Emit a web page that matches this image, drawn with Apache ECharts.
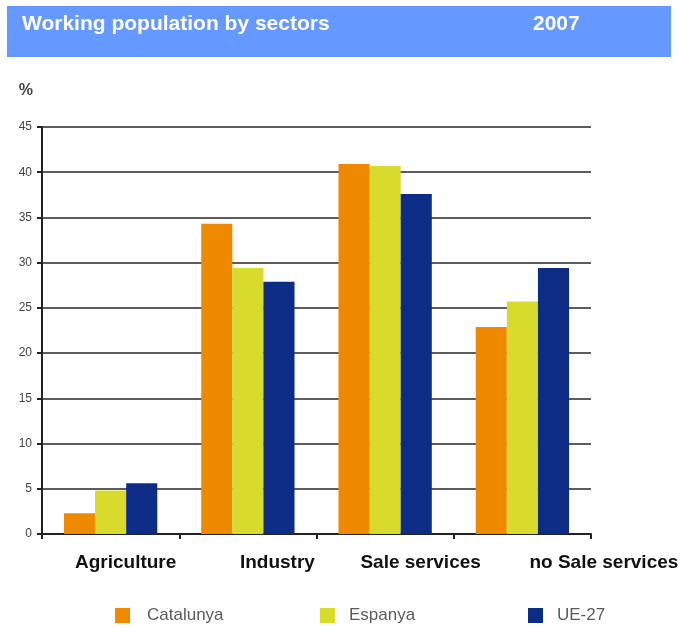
<!DOCTYPE html>
<html>
<head>
<meta charset="utf-8">
<title>Working population by sectors 2007</title>
<script src="https://cdn.jsdelivr.net/npm/echarts@6/dist/echarts.min.js"></script>
<style>
  html, body { margin: 0; padding: 0; background: #ffffff; }
  #chart { width: 685px; height: 628px; }
</style>
</head>
<body>
<div id="chart"></div>
<script>
// Sectors and share of working population (%) in 2007
var sectors = ['Agriculture', 'Industry', 'Sale services', 'no Sale services'];
var catalunya = [2.3, 34.3, 40.9, 22.9];
var espanya = [4.8, 29.4, 40.7, 25.7];
var ue27 = [5.6, 27.9, 37.6, 29.4];
var yTicks = [0, 5, 10, 15, 20, 25, 30, 35, 40, 45];

var seriesNames = ['Catalunya', 'Espanya', 'UE-27'];
var seriesColors = ['#EF8A00', '#D9DB2C', '#0D2C85'];

// Per-label horizontal nudges for the sector names under the axis
var labelShift = [30, 59, 71, 163];
var rich = {};
sectors.forEach(function (s, i) {
  rich['c' + i] = {
    fontFamily: 'Liberation Sans, Arial, sans-serif',
    fontWeight: 'bold',
    fontSize: 19,
    color: '#111',
    padding: [0, 0, 0, labelShift[i]]
  };
});

function legendFor(name, left, gap) {
  return {
    data: [name],
    left: left,
    top: 607,
    itemWidth: 15,
    itemHeight: 15,
    icon: 'rect',
    padding: 0,
    selectedMode: false,
    textStyle: {
      fontFamily: 'Liberation Sans, Arial, sans-serif',
      fontSize: 17,
      color: '#5a5a5a',
      padding: [0, 0, 0, gap]
    }
  };
}

var chart = echarts.init(document.getElementById('chart'), null, { renderer: 'canvas' });

chart.setOption({
  backgroundColor: '#ffffff',
  animation: false,
  graphic: [{
    type: 'rect',
    z: -1,
    shape: { x: 7, y: 6, width: 664, height: 51 },
    style: { fill: '#6699FF' }
  }],
  title: [{
    text: 'Working population by sectors',
    left: 22,
    top: 14,
    padding: 0,
    textStyle: {
      fontFamily: 'Liberation Sans, Arial, sans-serif',
      fontWeight: 'bold',
      fontSize: 21,
      color: '#ffffff'
    }
  }, {
    text: '2007',
    left: 533,
    top: 14,
    padding: 0,
    textStyle: {
      fontFamily: 'Liberation Sans, Arial, sans-serif',
      fontWeight: 'bold',
      fontSize: 21,
      color: '#ffffff'
    }
  }],
  legend: [
    legendFor(seriesNames[0], 115, 12),
    legendFor(seriesNames[1], 320, 9),
    legendFor(seriesNames[2], 528, 9)
  ],
  grid: { left: 42, right: 94, top: 127, bottom: 94, containLabel: false },
  xAxis: {
    type: 'category',
    data: sectors,
    boundaryGap: true,
    axisLine: { show: true, lineStyle: { color: '#222', width: 2 } },
    axisTick: { show: true, length: 5, lineStyle: { color: '#222', width: 2 } },
    axisLabel: {
      margin: 19,
      interval: 0,
      formatter: function (v, i) { return '{c' + i + '|' + v + '}'; },
      rich: rich
    },
    splitLine: { show: false }
  },
  yAxis: {
    type: 'value',
    min: yTicks[0],
    max: yTicks[yTicks.length - 1],
    interval: yTicks[1] - yTicks[0],
    name: '%',
    nameLocation: 'end',
    nameGap: 28,
    nameTextStyle: {
      fontFamily: 'Liberation Sans, Arial, sans-serif',
      fontWeight: 'bold',
      fontSize: 16,
      color: '#444',
      align: 'right',
      padding: [0, 9, 0, 0]
    },
    axisLine: { show: true, lineStyle: { color: '#222', width: 2 } },
    axisTick: { show: true, length: 5, lineStyle: { color: '#222', width: 2 } },
    axisLabel: {
      margin: 10,
      fontFamily: 'Liberation Sans, Arial, sans-serif',
      fontSize: 12,
      color: '#444'
    },
    splitLine: { show: true, lineStyle: { color: '#5c5c5c', width: 2 } }
  },
  series: [
    { name: seriesNames[0], type: 'bar', data: catalunya, itemStyle: { color: seriesColors[0] }, barGap: '0%', barCategoryGap: '32%' },
    { name: seriesNames[1], type: 'bar', data: espanya, itemStyle: { color: seriesColors[1] }, barGap: '0%', barCategoryGap: '32%' },
    { name: seriesNames[2], type: 'bar', data: ue27, itemStyle: { color: seriesColors[2] }, barGap: '0%', barCategoryGap: '32%' }
  ]
});
</script>
</body>
</html>
